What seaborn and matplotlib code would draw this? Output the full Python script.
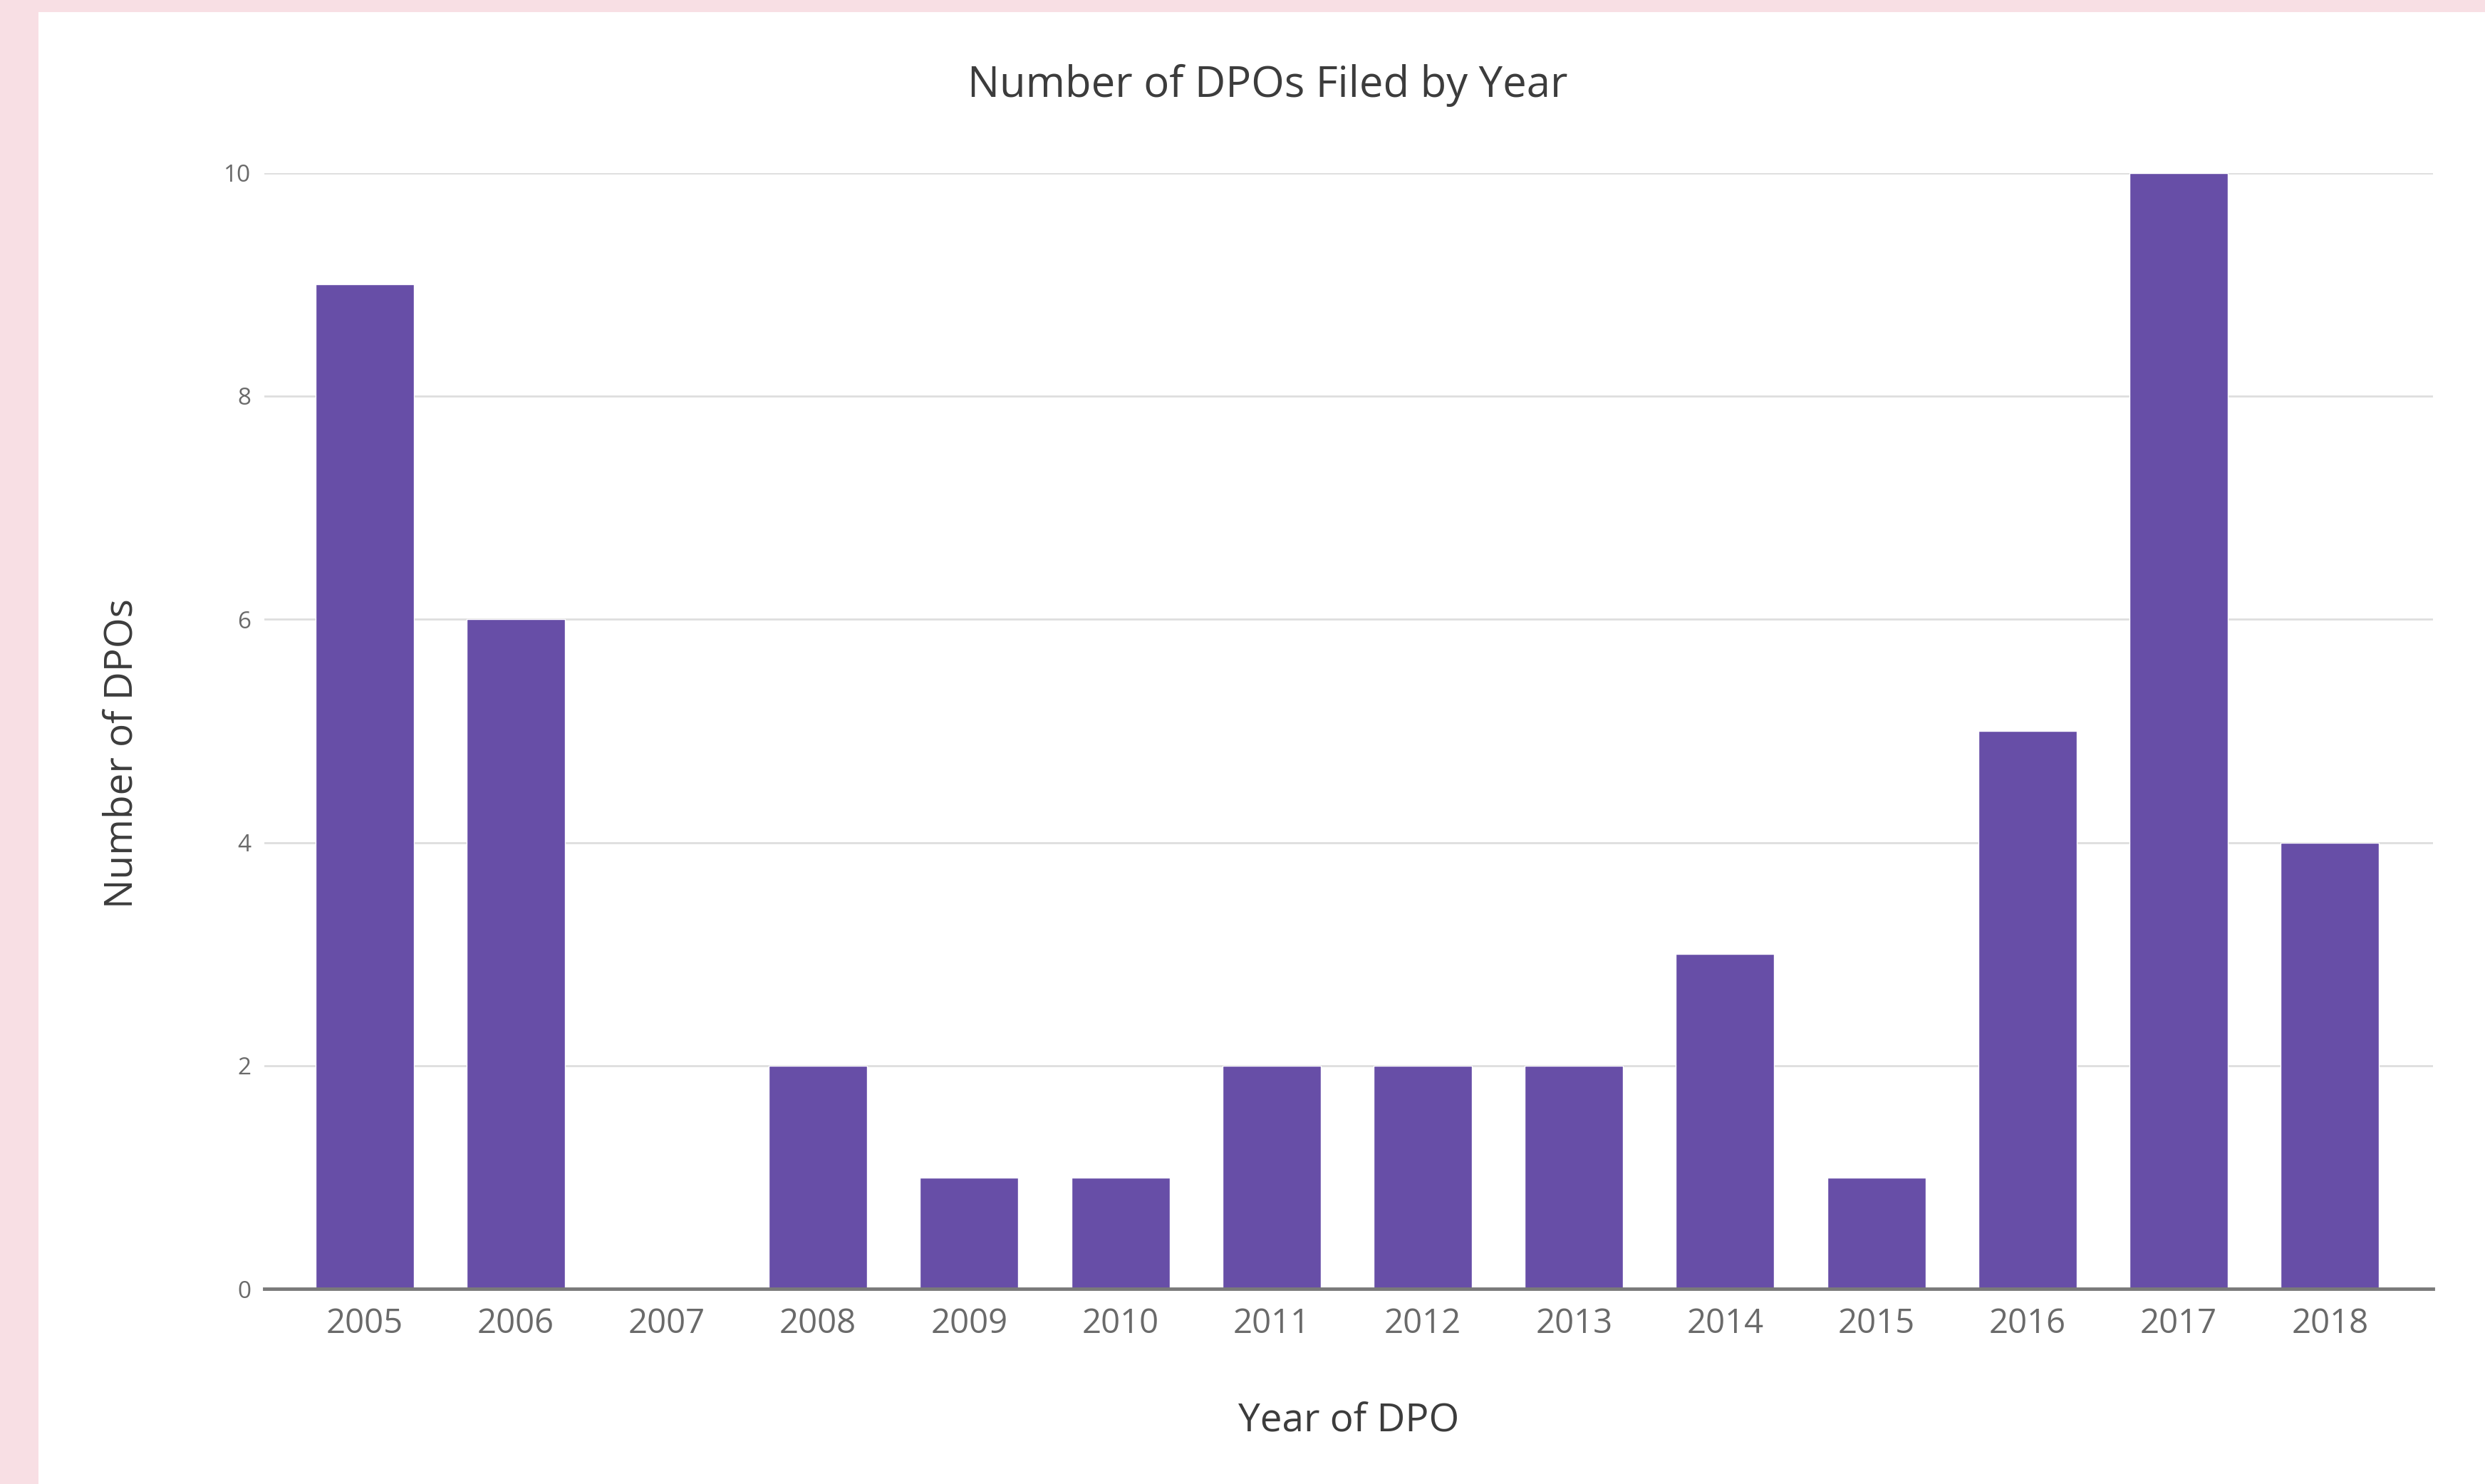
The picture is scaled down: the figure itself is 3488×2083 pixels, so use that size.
import matplotlib
matplotlib.use("Agg")
import matplotlib.pyplot as plt
import seaborn as sns
import pandas as pd
from matplotlib.patches import Rectangle

years = ["2005", "2006", "2007", "2008", "2009", "2010", "2011",
         "2012", "2013", "2014", "2015", "2016", "2017", "2018"]
counts = [9, 6, 0, 2, 1, 1, 2, 2, 2, 3, 1, 5, 10, 4]
y_ticks = [0, 2, 4, 6, 8, 10]

title = "Number of DPOs Filed by Year"
x_label = "Year of DPO"
y_label = "Number of DPOs"

bar_color = "#674EA7"

sns.set_theme(style="white")
plt.rcParams["font.family"] = ["Open Sans", "DejaVu Sans"]

W, H = 3488, 2083
fig = plt.figure(figsize=(W / 100, H / 100), dpi=100)
fig.patch.set_facecolor("#f8dfe4")
# white card
card = Rectangle((54 / W, 0), 1 - 54 / W, 1 - 17 / H,
                 transform=fig.transFigure, facecolor="white",
                 edgecolor="none", zorder=-10)
fig.patches.append(card)

ax = fig.add_axes([167 / 1568, 1 - 813 / 936, (1535 - 167) / 1568, (813 - 109) / 936])
ax.set_zorder(5)
ax.set_facecolor("white")

df = pd.DataFrame({"year": years, "count": counts})
sns.barplot(data=df, x="year", y="count", color=bar_color, saturation=1,
            width=0.65, ax=ax, zorder=3)

ax.set_ylim(0, 10)
ax.set_xlim(-0.66, len(years) - 1 + 0.68)
ax.set_yticks(y_ticks)
ax.set_yticklabels([str(v) for v in y_ticks])
ax.grid(axis="y", color="#dedede", linewidth=2.0, zorder=0)
ax.set_axisbelow(True)
for s in ["top", "right", "left"]:
    ax.spines[s].set_visible(False)
ax.spines["bottom"].set_color("#7a7a7a")
ax.spines["bottom"].set_linewidth(3.5)
ax.spines["bottom"].set_zorder(5)

ax.tick_params(axis="x", length=0, pad=18, labelsize=34, labelcolor="#6a6a6a")
ax.tick_params(axis="y", length=0, pad=14, labelsize=24, labelcolor="#6a6a6a")
ax.set_xlabel("")
ax.set_ylabel("")

fig.text(800 / 1568, 1 - 54 / 936, title, ha="center", va="center",
         fontsize=43, color="#3c3c3c")
fig.text(851 / 1568, 1 - 896 / 936, x_label, ha="center", va="center",
         fontsize=39.5, color="#3c3c3c")
fig.text(77 / 1568, 1 - 475 / 936, y_label, ha="center", va="center",
         rotation=90, fontsize=39.5, color="#3c3c3c")

fig.savefig("out.png", dpi=100, facecolor=fig.get_facecolor())
